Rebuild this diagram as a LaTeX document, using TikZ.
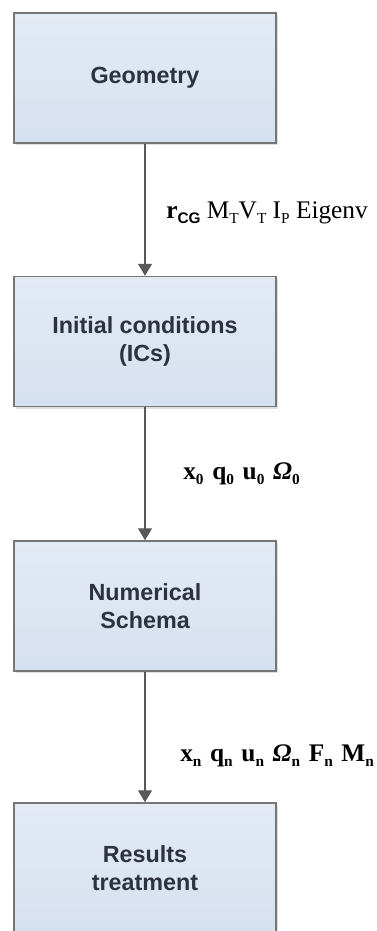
\documentclass[tikz,border=0pt]{standalone}
\usepackage{fontspec}
\setmainfont{Liberation Serif}
\newfontfamily\boxfont{Liberation Sans}
\usetikzlibrary{arrows.meta,shadows}
\definecolor{boxtop}{RGB}{227,234,244}
\definecolor{boxbot}{RGB}{214,225,240}
\definecolor{boxline}{RGB}{118,118,118}
\definecolor{boxtext}{RGB}{44,50,62}
\definecolor{flowline}{RGB}{88,88,88}
\newcommand{\lowsub}[1]{\raisebox{-0.45ex}{\fontsize{11.5}{11.5}\selectfont #1}}
\newcommand{\gap}{\hspace{6.5pt}}
\tikzset{
  stagebox/.style={draw=boxline, line width=1.1pt, top color=boxtop, bottom color=boxbot,
    minimum width=196.5pt, minimum height=97.5pt, align=center, text=boxtext,
    font=\boxfont\bfseries\fontsize{17.5}{20.5}\selectfont,
    drop shadow={shadow xshift=1.5pt, shadow yshift=-1.5pt, opacity=0.25}},
  flow/.style={draw=flowline, line width=0.8pt, -{Triangle[width=10.5pt,length=9pt]}},
  flowlabel/.style={anchor=west, inner sep=0pt, font=\fontsize{19}{22}\selectfont}
}
\begin{document}
\begin{tikzpicture}[x=0.75pt,y=0.75pt,yscale=-1]
\clip (0,0) rectangle (377,931);

% Boxes
\node[stagebox] (geom) at (145,78) {Geometry};
\node[stagebox] (ics) at (145,341.5) {Initial conditions\\(ICs)};
\node[stagebox] (schema) at (145,606) {Numerical\\Schema};
\node[stagebox] (results) at (145,868) {Results\\treatment};

% Connectors
\draw[flow] (geom) -- (ics);
\draw[flow] (ics) -- (schema);
\draw[flow] (schema) -- (results);

% Text Node
\node[flowlabel] (lab1) at (166,213) {\textbf{r}\lowsub{\boxfont\bfseries CG} M\lowsub{T}V\lowsub{T} I\lowsub{P} Eigenv};
% Text Node
\node[flowlabel] (lab2) at (183,474) {\bfseries x\lowsub{0}\gap q\lowsub{0}\gap u\lowsub{0}\gap\textit{Ω}\lowsub{0}};
% Text Node
\node[flowlabel] (lab3) at (180,756) {\bfseries x\lowsub{n}\gap q\lowsub{n}\gap u\lowsub{n}\gap\textit{Ω}\lowsub{n}\gap F\lowsub{n}\gap M\lowsub{n}};
\end{tikzpicture}
\end{document}
